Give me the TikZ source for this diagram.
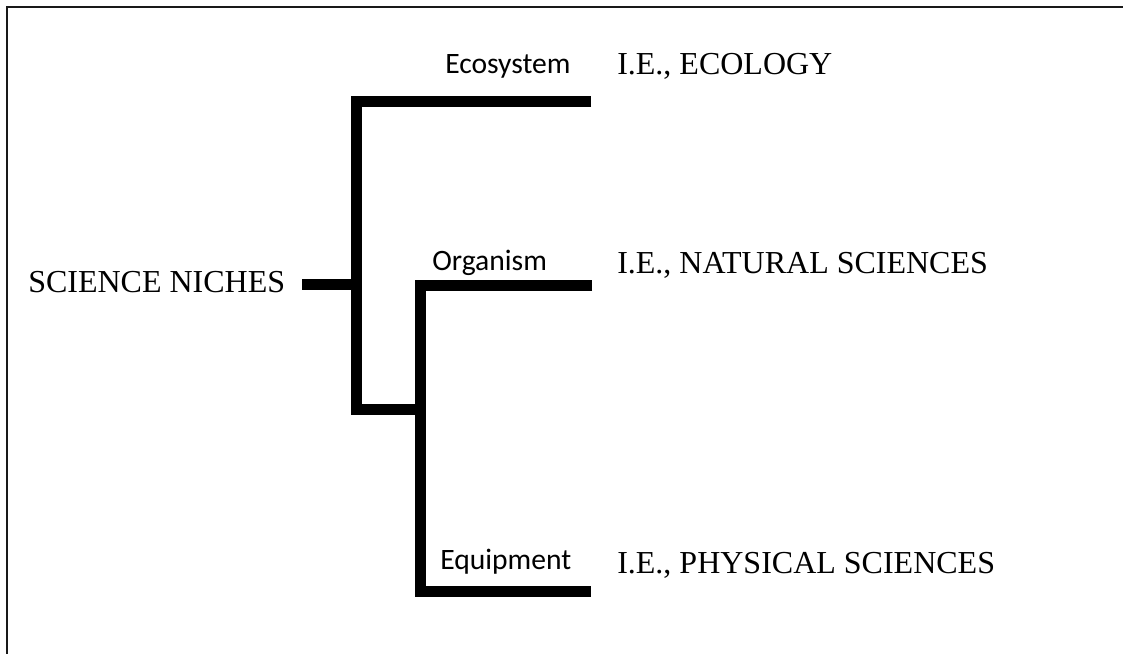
\documentclass[tikz,border=0pt]{standalone}
\usepackage{fontspec}
\setmainfont{Liberation Serif}
\newfontfamily\labelfont{Carlito}
\usetikzlibrary{positioning}

\begin{document}
\begin{tikzpicture}[x=0.75pt, y=-0.75pt,
    branch/.style={line width=8.25pt, black, line join=miter},
    frame/.style={line width=1.5pt, black!90},
    niche/.style={inner sep=0pt, anchor=base west, font=\fontsize{24}{28}\selectfont},
    level/.style={inner sep=0pt, anchor=base west, font=\labelfont\fontsize{22.2}{26}\selectfont}]

  \useasboundingbox (0,0) rectangle (1123,654);

  % Frame (only left and top edges show)
  \draw[frame] (1123,6.5) -- (7,6.5) -- (7,654);

  %% ===== ROOT =====
  \node[niche] (niches) at (28,292) {SCIENCE NICHES};

  %% ===== LEVELS =====
  \node[level] (ecosys) at (445,73) {Ecosystem};
  \node[level] (organism) at (432,270) {Organism};
  \node[level] (equip) at (440,569) {Equipment};

  %% ===== EXAMPLES =====
  \node[niche] (ecology) at (617,74) {I.E., ECOLOGY};
  \node[niche] (natsci) at (617,273) {I.E., NATURAL SCIENCES};
  \node[niche] (physsci) at (617,573) {I.E., PHYSICAL SCIENCES};

  % Branch points and free ends
  \coordinate (stub) at (302,284);
  \coordinate (split) at (356,284);
  \coordinate (fork) at (420,409);
  \coordinate (ecoend) at (591,101);
  \coordinate (natend) at (592,285);
  \coordinate (physend) at (591,591);

  %% ===== TREE =====
  \draw[branch] (stub) -- (split);
  % Upper branch down to the lower fork
  \draw[branch] (ecoend) -| (split) |- (fork);
  % Lower fork
  \draw[branch] (natend) -| (fork) |- (physend);

\end{tikzpicture}
\end{document}
